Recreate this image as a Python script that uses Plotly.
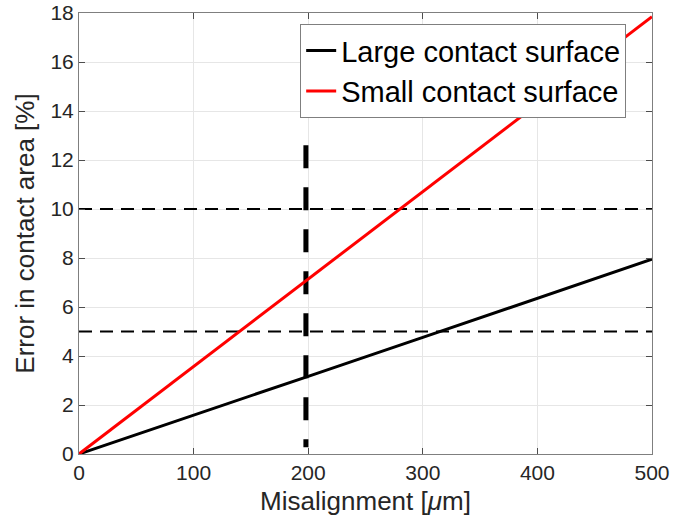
import plotly.graph_objects as go

# Data
misalignment = [0, 100, 200, 300, 400, 500]
large_err = [0, 1.6, 3.17, 4.76, 6.35, 7.95]
small_err = [0, 3.57, 7.14, 10.7, 14.28, 17.85]
threshold_levels = [5, 10]
marker_x = 198
marker_y = [12.6, 0.28]

x_range = [0, 500]
y_range = [0, 18]
x_ticks = [0, 100, 200, 300, 400, 500]
y_ticks = [0, 2, 4, 6, 8, 10, 12, 14, 16, 18]

FONT = "Liberation Sans, Arial, sans-serif"
AX = "#262626"

fig = go.Figure()

for lvl in threshold_levels:
    fig.add_trace(go.Scatter(
        x=x_range, y=[lvl, lvl], mode="lines",
        line=dict(color="black", width=2, dash="13px,8px"),
        showlegend=False, hoverinfo="skip"))

fig.add_trace(go.Scatter(
    x=[marker_x, marker_x], y=marker_y, mode="lines",
    line=dict(color="black", width=5, dash="23px,19px"),
    showlegend=False, hoverinfo="skip"))

fig.add_trace(go.Scatter(
    x=misalignment, y=large_err, mode="lines",
    name="Large contact surface",
    line=dict(color="black", width=3)))
fig.add_trace(go.Scatter(
    x=misalignment, y=small_err, mode="lines",
    name="Small contact surface",
    line=dict(color="#ff0000", width=3)))

axis_common = dict(
    showgrid=True, gridcolor="#e6e6e6", gridwidth=1,
    showline=True, linecolor="#7f7f7f", linewidth=1, mirror="ticks",
    ticks="inside", ticklen=6, tickcolor="#4d4d4d",
    zeroline=False, automargin=False,
    tickfont=dict(family=FONT, size=21, color=AX),
)

fig.update_layout(
    width=677, height=526,
    margin=dict(l=79, r=25, t=13, b=72),
    paper_bgcolor="white", plot_bgcolor="white",
    font=dict(family=FONT, color=AX),
    xaxis=dict(range=x_range, tickvals=x_ticks,
               title=dict(text="Misalignment [<i>μ</i>m]", font=dict(family=FONT, size=26, color=AX), standoff=8),
               **axis_common),
    yaxis=dict(range=y_range, tickvals=y_ticks,
               title=dict(text="Error in contact area [%]", font=dict(family=FONT, size=26, color=AX), standoff=8),
               **axis_common),
    legend=dict(x=0.386, y=0.975, xanchor="left", yanchor="top",
                bgcolor="white", bordercolor="#7f7f7f", borderwidth=1,
                font=dict(family=FONT, size=29, color="black"),
                tracegroupgap=0),
    showlegend=True,
)

fig.write_html("out.html", config={"displayModeBar": False},
               post_script="document.body.style.margin='0px';")
